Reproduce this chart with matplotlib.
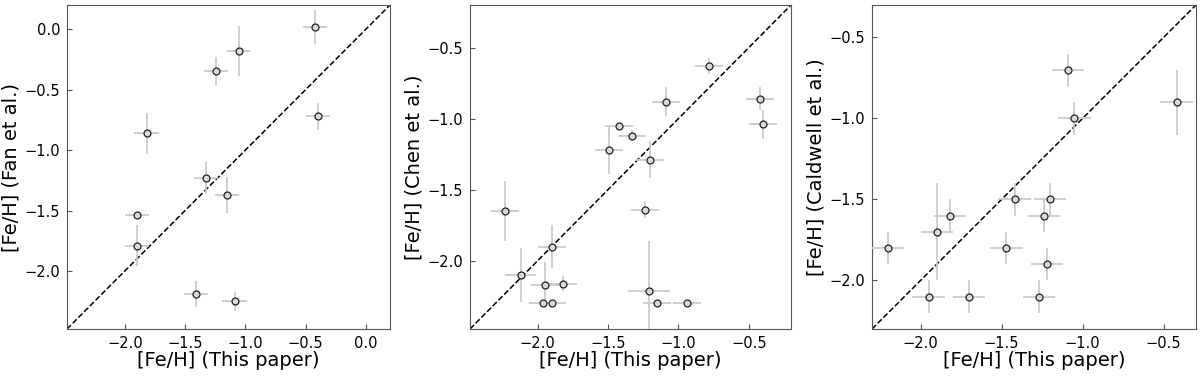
import numpy as np
import matplotlib
matplotlib.use("Agg")
import matplotlib.pyplot as plt

# panel 1: this paper vs Fan et al.
fan_x = [-0.42, -1.05, -1.24, -1.82, -0.40, -1.33, -1.15, -1.90, -1.90, -1.41, -1.09]
fan_y = [0.02, -0.18, -0.35, -0.86, -0.72, -1.23, -1.37, -1.54, -1.79, -2.19, -2.25]
fan_xe = [0.10, 0.10, 0.10, 0.10, 0.10, 0.10, 0.10, 0.10, 0.10, 0.10, 0.10]
fan_ye = [0.14, 0.21, 0.12, 0.17, 0.11, 0.13, 0.15, 0.03, 0.17, 0.11, 0.08]

# panel 2: this paper vs Chen et al.
chen_x = [-0.78, -1.09, -0.42, -0.40, -1.42, -1.33, -1.49, -1.20, -1.24, -2.23,
          -1.90, -2.12, -1.95, -1.82, -1.96, -1.90, -1.21, -1.15, -0.94]
chen_y = [-0.63, -0.88, -0.86, -1.04, -1.05, -1.12, -1.22, -1.29, -1.64, -1.65,
          -1.90, -2.10, -2.17, -2.16, -2.30, -2.30, -2.21, -2.30, -2.30]
chen_xe = [0.10, 0.10, 0.10, 0.10, 0.10, 0.10, 0.10, 0.10, 0.10, 0.10,
           0.10, 0.11, 0.10, 0.10, 0.10, 0.10, 0.15, 0.10, 0.10]
chen_ye = [0.055, 0.10, 0.08, 0.10, 0.02, 0.04, 0.17, 0.13, 0.06, 0.21,
           0.15, 0.19, 0.16, 0.05, 0.01, 0.01, 0.35, 0.01, 0.01]

# panel 3: this paper vs Caldwell et al.
cal_x = [-1.09, -0.42, -1.05, -1.42, -1.20, -1.24, -1.82, -1.90, -2.20, -1.47,
         -1.22, -1.95, -1.70, -1.27]
cal_y = [-0.70, -0.90, -1.00, -1.50, -1.50, -1.60, -1.60, -1.70, -1.80, -1.80,
         -1.90, -2.10, -2.10, -2.10]
cal_xe = [0.10] * 14
cal_ye = [0.10, 0.20, 0.10, 0.10, 0.10, 0.10, 0.10, 0.30, 0.10, 0.10,
          0.10, 0.10, 0.10, 0.10]

panels = [
    (fan_x, fan_y, fan_xe, fan_ye, "[Fe/H] (Fan et al.)", (-2.48, 0.2)),
    (chen_x, chen_y, chen_xe, chen_ye, "[Fe/H] (Chen et al.)", (-2.48, -0.2)),
    (cal_x, cal_y, cal_xe, cal_ye, "[Fe/H] (Caldwell et al.)", (-2.3, -0.3)),
]
lefts = [67, 470, 872]
widths = [323, 321, 324]

fig = plt.figure(figsize=(12, 3.77), dpi=100)
for (x, y, xe, ye, ylab, lim), l, w in zip(panels, lefts, widths):
    ax = fig.add_axes([l / 1200., 48 / 377., w / 1200., 324 / 377.])
    ax.errorbar(x, y, xerr=xe, yerr=ye, fmt='o', ms=5, mfc='#d9d9d9', mec='#222222',
                mew=0.9, ecolor='#cccccc', elinewidth=1.3, capsize=0, zorder=3)
    ax.plot(lim, lim, 'k--', lw=1.1, zorder=2)
    ax.set_xlim(lim)
    ax.set_ylim(lim)
    ax.set_xticks(np.arange(-2.0, lim[1] + 0.01, 0.5))
    ax.set_yticks(np.arange(-2.0, lim[1] + 0.01, 0.5))
    ax.tick_params(direction='in', labelsize=10.5, pad=5, color='#555555')
    for s in ax.spines.values():
        s.set_color('#555555')
    ax.set_xlabel("[Fe/H] (This paper)", fontsize=14, labelpad=0)
    ax.set_ylabel(ylab, fontsize=14, labelpad=3)

plt.savefig("out.png", dpi=100)
plt.close()
